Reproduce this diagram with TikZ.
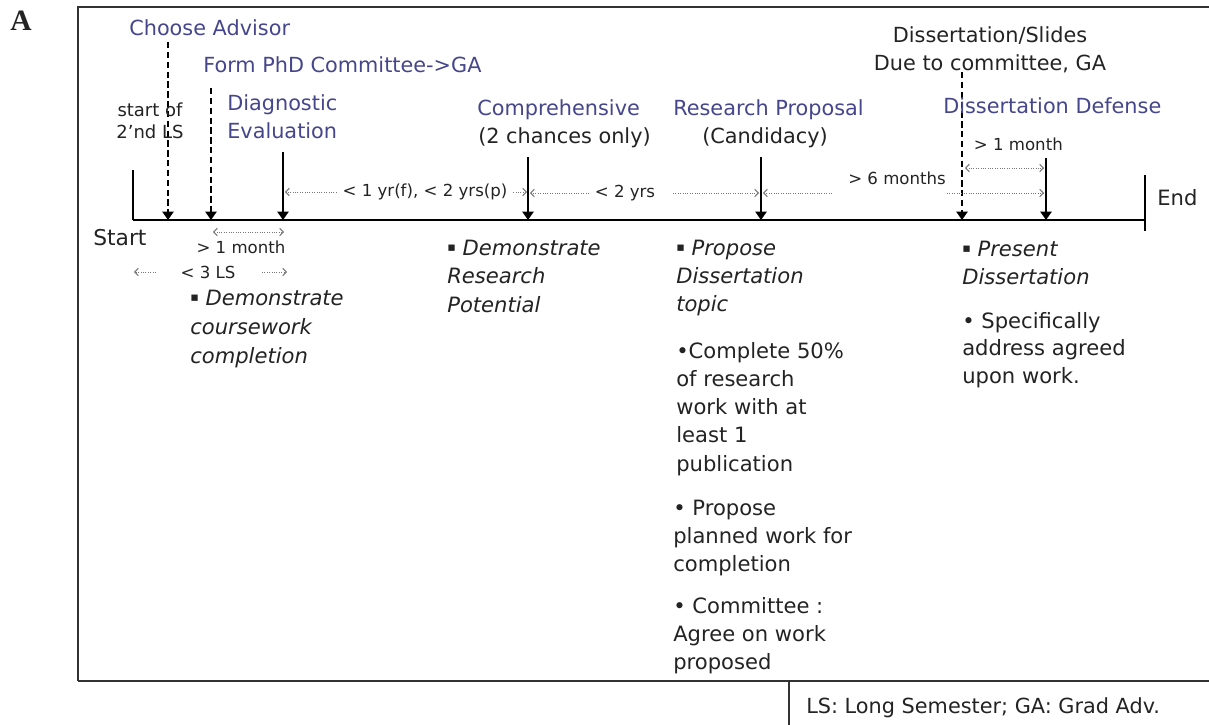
\documentclass[tikz,border=0pt]{standalone}
\usepackage{fontspec}
\setmainfont{DejaVu Sans}
\newfontfamily\labelfont{Liberation Serif}
\usetikzlibrary{arrows.meta}
\definecolor{headblue}{RGB}{70,70,140}
\definecolor{ink}{RGB}{35,35,35}
\definecolor{framegray}{RGB}{50,50,50}
\definecolor{dotgray}{RGB}{120,120,120}
\newcommand\sqbul{\raisebox{2.2pt}{\fontsize{9}{9}\selectfont\upshape ▪}}
\begin{document}
\begin{tikzpicture}[x=0.025cm,y=-0.025cm,
  head/.style={text=headblue,font=\fontsize{14.8}{20.6}\selectfont,inner sep=0pt},
  plain/.style={text=ink,font=\fontsize{14.8}{20.6}\selectfont,inner sep=0pt},
  small/.style={text=ink,font=\fontsize{11.8}{15}\selectfont,inner ysep=0pt,inner xsep=4pt},
  body/.style={text=ink,font=\fontsize{15}{20.4}\selectfont,inner sep=0pt,anchor=base west},
  eventline/.style={draw=black,line width=1.4pt,-{Triangle[width=8pt,length=6pt]}},
  eventdash/.style={eventline,dash pattern=on 4.5pt off 2.5pt},
  spanline/.style={draw=dotgray,densely dotted,line width=0.7pt},
  myb/.tip={Straight Barb[length=2.6pt,width=5.4pt]},
  frameline/.style={draw=framegray,line width=1.6pt}
]
\useasboundingbox (0,0) rectangle (1209,724);
\clip (0,0) rectangle (1209,724);
\fill[white] (0,0) rectangle (1209,724);

% panel letter
\node[font=\labelfont\bfseries\fontsize{21}{24}\selectfont,text=ink,inner sep=0pt,anchor=base] (lblA) at (21,30) {A};

% frame
\coordinate (frBL) at (78,681);
\coordinate (frTL) at (78,7);
\coordinate (frTR) at (1215,7);
\coordinate (frBR) at (1215,681);
\coordinate (lgTop) at (789,681);
\coordinate (lgBot) at (789,730);
\draw[frameline] (frBL) -- (frTL) -- (frTR);
\draw[frameline] (frBL) -- (frBR);
\draw[frameline] (lgTop) -- (lgBot);
\node[plain,anchor=base west] (legend) at (806,713) {LS: Long Semester; GA: Grad Adv.};

% timeline
\coordinate (t0) at (133,220);
\coordinate (tE) at (1145,220);
\coordinate (startTop) at (133,170);
\coordinate (endTop) at (1145,175);
\coordinate (endBot) at (1145,231);
\draw[line width=1.6pt] (t0) -- (tE);
\draw[line width=1.4pt] (startTop) -- (t0);
\draw[line width=1.4pt] (endTop) -- (endBot);
\node[plain,font=\fontsize{15.5}{18}\selectfont,anchor=base west] (start) at (93,245) {Start};
\node[plain,font=\fontsize{15}{18}\selectfont,anchor=base west] (end) at (1157,205) {End};

% event points
\coordinate (advTop) at (168,42);   \coordinate (advPt) at (168,220);
\coordinate (comTop) at (211,88);   \coordinate (comPt) at (211,220);
\coordinate (diagTop) at (283,152); \coordinate (diagPt) at (283,220);
\coordinate (compTop) at (528,157); \coordinate (compPt) at (528,220);
\coordinate (propTop) at (761,157); \coordinate (propPt) at (761,220);
\coordinate (dueTop) at (962,72);   \coordinate (duePt) at (962,220);
\coordinate (defTop) at (1046,158); \coordinate (defPt) at (1046,220);

\draw[eventdash] (advTop) -- (advPt);
\draw[eventdash] (comTop) -- (comPt);
\draw[eventline] (diagTop) -- (diagPt);
\draw[eventline] (compTop) -- (compPt);
\draw[eventline] (propTop) -- (propPt);
\draw[eventdash] (dueTop) -- (duePt);
\draw[eventline] (defTop) -- (defPt);

% event labels
\node[head,anchor=base west] (adv) at (129,35) {Choose Advisor};
\node[head,anchor=base west] (com) at (203,72) {Form PhD Committee->GA};
\node[text=ink,font=\fontsize{12.8}{15.6}\selectfont,inner sep=0pt,align=center] (st2) at (150,121) {start of\\2'nd LS};
\node[head,anchor=base west] (diag) at (227,110) {\vtop{\hbox{Diagnostic}\hbox{Evaluation}}};
\node[head,anchor=base west] (comp) at (477,115) {Comprehensive};
\node[plain,anchor=base west] (compnote) at (478,143) {(2 chances only)};
\node[head,anchor=base west] (prop) at (673,115) {Research Proposal};
\node[plain,anchor=base] (propnote) at (765,143) {(Candidacy)};
\node[plain,anchor=base] (due1) at (990,42) {Dissertation/Slides};
\node[plain,anchor=base] (due2) at (990,70) {Due to committee, GA};
\node[head,anchor=base west] (def) at (943,113) {Dissertation Defense};

% intervals above the line
\node[small] (yr) at (425,192) {< 1 yr(f), < 2 yrs(p)};
\coordinate (yrTipL) at (285,192);
\coordinate (yrTipR) at (527,192);
\draw[spanline,-myb] (yr.west) -- (yrTipL);
\draw[spanline,-myb] (yr.east) -- (yrTipR);

\node[small] (two) at (625,193) {< 2 yrs};
\coordinate (twoTipL) at (530,193);
\coordinate (twoTipR) at (759,193);
\coordinate (twoR) at (673,193);
\draw[spanline,-myb] (two.west) -- (twoTipL);
\draw[spanline,-myb] (twoR) -- (twoTipR);

\node[small] (six) at (897,178) {> 6 months};
\coordinate (sixTipL) at (763,193);
\coordinate (sixL) at (832,193);
\coordinate (sixR) at (947,193);
\coordinate (sixTipR) at (1044,193);
\draw[spanline,-myb] (sixL) -- (sixTipL);
\draw[spanline,-myb] (sixR) -- (sixTipR);

\node[small,anchor=base west] (mdef) at (968,150) {> 1 month};
\coordinate (mdefL) at (965,168);
\coordinate (mdefR) at (1044,168);
\draw[spanline,myb-myb] (mdefL) -- (mdefR);

% intervals below the line
\coordinate (mdiagL) at (213,232);
\coordinate (mdiagR) at (284,232);
\draw[spanline,myb-myb] (mdiagL) -- (mdiagR);
\node[small,anchor=base] (mdiag) at (241,253) {> 1 month};

\node[small] (ls) at (208,272) {< 3 LS};
\coordinate (lsL) at (156,272);
\coordinate (lsTipL) at (134,272);
\coordinate (lsR) at (262,272);
\coordinate (lsTipR) at (287,272);
\draw[spanline,-myb] (lsL) -- (lsTipL);
\draw[spanline,-myb] (lsR) -- (lsTipR);

% descriptions
\node[body,font=\fontsize{15}{20.8}\selectfont\itshape] (cw) at (190,305) {\vtop{\hbox{\sqbul\ Demonstrate}\hbox{coursework}\hbox{completion}}};
\node[body,font=\fontsize{15}{20.4}\selectfont\itshape] (rp) at (447,255) {\vtop{\hbox{\sqbul\ Demonstrate}\hbox{Research}\hbox{Potential}}};
\node[body,font=\fontsize{15}{20.1}\selectfont\itshape] (pt) at (676,255) {\vtop{\hbox{\sqbul\ Propose}\hbox{Dissertation}\hbox{topic}}};
\node[body,font=\fontsize{15}{20.1}\selectfont] (c50) at (676,358) {\vtop{\hbox{•Complete 50\%}\hbox{of research}\hbox{work with at}\hbox{least 1}\hbox{publication}}};
\node[body,font=\fontsize{15}{20.1}\selectfont] (pw) at (673,515) {\vtop{\hbox{• Propose}\hbox{planned work for}\hbox{completion}}};
\node[body,font=\fontsize{15}{20.1}\selectfont] (cm) at (673,613) {\vtop{\hbox{• Committee :}\hbox{Agree on work}\hbox{proposed}}};
\node[body,font=\fontsize{15}{20.4}\selectfont\itshape] (pd) at (962,256) {\vtop{\hbox{\sqbul\ Present}\hbox{Dissertation}}};
\node[body,font=\fontsize{15}{19.6}\selectfont] (sa) at (962,328) {\vtop{\hbox{• Specifically}\hbox{address agreed}\hbox{upon work.}}};
\end{tikzpicture}
\end{document}
